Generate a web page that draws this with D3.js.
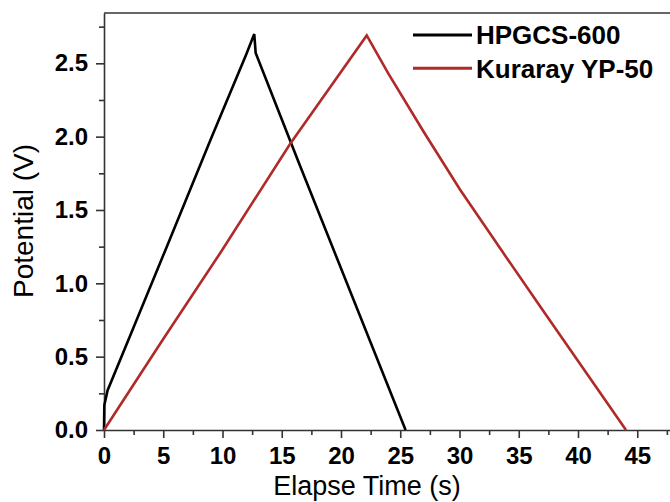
<!DOCTYPE html>
<html>
<head>
<meta charset="utf-8">
<script src="https://cdn.jsdelivr.net/npm/d3@7"></script>
<style>
  html, body { margin: 0; padding: 0; background: #fff; }
  svg { display: block; font-family: "Liberation Sans", Arial, sans-serif; }
</style>
</head>
<body>
<div id="chart"></div>
<script>
// galvanostatic charge/discharge curves
const hpgcsTime = [0, 0.03, 0.3, 2.5, 5.3, 9.0, 12.0, 12.68, 12.8, 16.5, 25.45]
const hpgcsPot = [0, 0.17, 0.27, 0.70, 1.25, 1.98, 2.56, 2.70, 2.57, 1.81, 0]

const ypTime = [0, 5, 10, 15.7, 22.17, 24, 27, 30.04, 33.5, 37, 44.05]
const ypPot = [0, 0.62, 1.23, 1.95, 2.69, 2.43, 2.03, 1.64, 1.23, 0.82, 0]

const seriesNames = ['HPGCS-600', 'Kuraray YP-50']
const seriesColors = ['#000000', '#b02a2a']

const xTicks = [0, 5, 10, 15, 20, 25, 30, 35, 40, 45]
const xMinor = [2.5, 7.5, 12.5, 17.5, 22.5, 27.5, 32.5, 37.5, 42.5, 47.5]
const yTicks = [0, 0.5, 1.0, 1.5, 2.0, 2.5]
const yMinor = [0.25, 0.75, 1.25, 1.75, 2.25, 2.75]

const width = 670
const height = 502
const margin = { top: 13, left: 104, bottom: 72 }

const series = [
  hpgcsTime.map((t, i) => ({ t, v: hpgcsPot[i] })),
  ypTime.map((t, i) => ({ t, v: ypPot[i] }))
]

const svg = d3.select('#chart')
  .append('svg')
  .attr('width', width)
  .attr('height', height)

const x = d3.scaleLinear()
  .domain([0, 48])
  .range([margin.left, margin.left + 48 * 11.85])

const y = d3.scaleLinear()
  .domain([0, 2.843])
  .range([height - margin.bottom, margin.top])

const axisColor = '#333'

// minor ticks first, so the major axis sits on top
svg.append('g')
  .attr('transform', `translate(0,${y(0)})`)
  .call(d3.axisBottom(x).tickValues(xMinor).tickSize(5).tickFormat(''))
  .call(g => g.select('.domain').remove())

svg.append('g')
  .attr('transform', `translate(${x(0)},0)`)
  .call(d3.axisLeft(y).tickValues(yMinor).tickSize(5).tickFormat(''))
  .call(g => g.select('.domain').remove())

const xAxis = svg.append('g')
  .attr('transform', `translate(0,${y(0)})`)
  .call(d3.axisBottom(x).tickValues(xTicks).tickSize(8).tickPadding(9).tickSizeOuter(0))

xAxis.selectAll('text')
  .style('font-size', '24px')
  .style('font-weight', 'bold')
  .attr('fill', '#000')

const yAxis = svg.append('g')
  .attr('transform', `translate(${x(0)},0)`)
  .call(d3.axisLeft(y).tickValues(yTicks).tickSize(8).tickPadding(8)
    .tickFormat(d3.format('.1f')).tickSizeOuter(0))

yAxis.selectAll('text')
  .style('font-size', '24px')
  .style('font-weight', 'bold')
  .attr('fill', '#000')

svg.selectAll('.domain, .tick line')
  .attr('stroke', axisColor)
  .attr('stroke-width', 1.6)

// top frame line
svg.append('line')
  .attr('x1', x(0))
  .attr('x2', width)
  .attr('y1', y.range()[1])
  .attr('y2', y.range()[1])
  .attr('stroke', axisColor)
  .attr('stroke-width', 1.6)

const line = d3.line()
  .x(d => x(d.t))
  .y(d => y(d.v))

svg.selectAll('path.curve')
  .data(series)
  .enter()
  .append('path')
  .attr('class', 'curve')
  .attr('d', line)
  .attr('fill', 'none')
  .attr('stroke', (d, i) => seriesColors[i])
  .attr('stroke-width', 2.6)
  .attr('stroke-linejoin', 'miter')

// legend
const legend = svg.append('g')
  .selectAll('g')
  .data(seriesNames)
  .enter()
  .append('g')
  .attr('transform', (d, i) => `translate(413,${35 + i * 33.3})`)

legend.append('line')
  .attr('x1', 0)
  .attr('x2', 59)
  .attr('stroke', (d, i) => seriesColors[i])
  .attr('stroke-width', 3)

legend.append('text')
  .attr('x', 63)
  .attr('dy', '0.36em')
  .style('font-size', '26px')
  .style('font-weight', 'bold')
  .text(d => d)

// axis titles
svg.append('text')
  .attr('x', 367)
  .attr('y', 495)
  .attr('text-anchor', 'middle')
  .style('font-size', '27px')
  .text('Elapse Time (s)')

svg.append('text')
  .attr('transform', 'translate(33,221) rotate(-90)')
  .attr('text-anchor', 'middle')
  .style('font-size', '28px')
  .text('Potential (V)')
</script>
</body>
</html>
